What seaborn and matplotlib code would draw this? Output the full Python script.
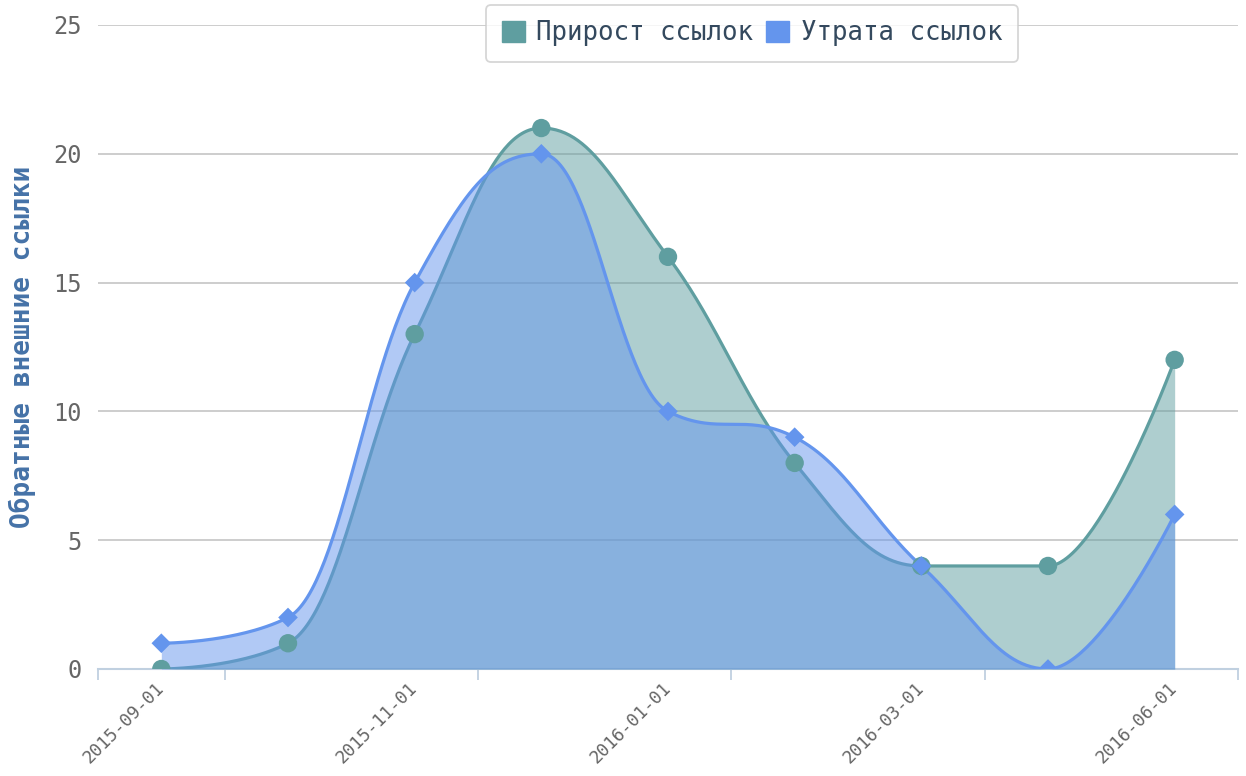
import numpy as np
import pandas as pd
import matplotlib
matplotlib.use("Agg")
import matplotlib.pyplot as plt
import seaborn as sns
from matplotlib.patches import Patch

# data
categories = ['2015-09-01', '2015-10-01', '2015-11-01', '2015-12-01', '2016-01-01',
              '2016-02-01', '2016-03-01', '2016-05-01', '2016-06-01']
gain = [0, 1, 13, 21, 16, 8, 4, 4, 12]      # Прирост ссылок
loss = [1, 2, 15, 20, 10, 9, 4, 0, 6]       # Утрата ссылок
series_names = ['Прирост ссылок', 'Утрата ссылок']
colors = ['#5F9EA0', '#6495ED']

sns.set_theme(style='white')
plt.rcParams['font.family'] = ['DejaVu Sans Mono', 'DejaVu Sans']


def spline_curve(xs, ys, smoothing=1.5, n=60):
    # highcharts-like spline: cubic bezier segments with clamped control points
    xs = np.asarray(xs, float)
    ys = np.asarray(ys, float)
    m = len(xs)
    lc = [(xs[i], ys[i]) for i in range(m)]
    rc = [(xs[i], ys[i]) for i in range(m)]
    denom = smoothing + 1
    for i in range(1, m - 1):
        px, py = xs[i], ys[i]
        lx, ly = xs[i - 1], ys[i - 1]
        nx, ny = xs[i + 1], ys[i + 1]
        lcx = (smoothing * px + lx) / denom
        lcy = (smoothing * py + ly) / denom
        rcx = (smoothing * px + nx) / denom
        rcy = (smoothing * py + ny) / denom
        corr = 0
        if rcx != lcx:
            corr = (rcy - lcy) * (rcx - px) / (rcx - lcx) + py - rcy
        lcy += corr
        rcy += corr
        if lcy > ly and lcy > py:
            lcy = max(ly, py)
            rcy = 2 * py - lcy
        elif lcy < ly and lcy < py:
            lcy = min(ly, py)
            rcy = 2 * py - lcy
        if rcy > ny and rcy > py:
            rcy = max(ny, py)
            lcy = 2 * py - rcy
        elif rcy < ny and rcy < py:
            rcy = min(ny, py)
            lcy = 2 * py - rcy
        lc[i] = (lcx, lcy)
        rc[i] = (rcx, rcy)
    t = np.linspace(0, 1, n)[:, None]
    pts = []
    for i in range(1, m):
        p0 = np.array([xs[i - 1], ys[i - 1]])
        p1 = np.array(rc[i - 1])
        p2 = np.array(lc[i])
        p3 = np.array([xs[i], ys[i]])
        seg = ((1 - t) ** 3) * p0 + 3 * ((1 - t) ** 2) * t * p1 + 3 * (1 - t) * t ** 2 * p2 + t ** 3 * p3
        pts.append(seg if i == 1 else seg[1:])
    pts = np.vstack(pts)
    return pts[:, 0], pts[:, 1]


fig = plt.figure(figsize=(12.46, 7.76), dpi=100)
ax = fig.add_axes([98 / 1246, 1 - 669 / 776, 1140 / 1246, 644 / 776])

xpos = np.arange(len(categories))
df = pd.DataFrame({'x': np.concatenate([xpos, xpos]),
                   'y': gain + loss,
                   'series': [series_names[0]] * len(gain) + [series_names[1]] * len(loss)})

markers = ['o', 'D']
msizes = [175, 100]
for name, col, mk, ms in zip(series_names, colors, markers, msizes):
    sub = df[df['series'] == name]
    cx, cy = spline_curve(sub['x'], sub['y'])
    ax.fill_between(cx, cy, 0, color=col, alpha=0.5, lw=0, zorder=2)
    ax.plot(cx, cy, color=col, lw=2.3, zorder=2, solid_capstyle='round')
    sns.scatterplot(data=sub, x='x', y='y', color=col, marker=mk, s=ms,
                    edgecolor='none', ax=ax, zorder=3, legend=False)

ax.set_xlim(-0.5, len(categories) - 0.5)
ax.set_ylim(0, 25)
ax.set_yticks([0, 5, 10, 15, 20, 25])
ax.yaxis.grid(True, color='#C0C0C0', lw=1.1)
ax.xaxis.grid(False)
ax.set_axisbelow(True)
for s in ['top', 'right', 'left']:
    ax.spines[s].set_visible(False)
ax.spines['bottom'].set_color('#C0D0E0')
ax.spines['bottom'].set_linewidth(1.5)
ax.spines['bottom'].set_zorder(1)

ax.set_xticks(xpos[::2])
ax.set_xticklabels(categories[::2], rotation=45, ha='right', rotation_mode='anchor',
                   va='center', fontsize=12.8, color='#666666')
ax.set_xticks([-0.5, 0.5, 2.5, 4.5, 6.5, 8.5], minor=True)
ax.tick_params(axis='x', which='major', length=0, pad=12)
ax.tick_params(axis='x', which='minor', length=8, width=1.3, color='#C0D0E0', bottom=True)
ax.tick_params(axis='y', length=0, pad=12, labelsize=17, labelcolor='#666666')
ax.set_xlabel('')
ax.set_ylabel('')

fig.text(22 / 1246, 0.553, 'Обратные внешние ссылки', rotation=90, ha='center', va='center',
         fontsize=18.8, fontweight='bold', color='#4572A7')

handles = [Patch(facecolor=c, edgecolor=c, label=n) for n, c in zip(series_names, colors)]
leg = fig.legend(handles=handles, loc='upper center', bbox_to_anchor=(752 / 1246, 1 - 5 / 776),
                 ncol=2, fontsize=18.5, frameon=True, fancybox=True, handlelength=0.9,
                 handleheight=0.9, handletextpad=0.45, columnspacing=0.5,
                 borderpad=0.6, borderaxespad=0, labelcolor='#34495e')
leg.get_frame().set_edgecolor('#cccccc')
leg.get_frame().set_linewidth(1.3)
leg.get_frame().set_facecolor('white')

fig.savefig('out.png', dpi=100)
